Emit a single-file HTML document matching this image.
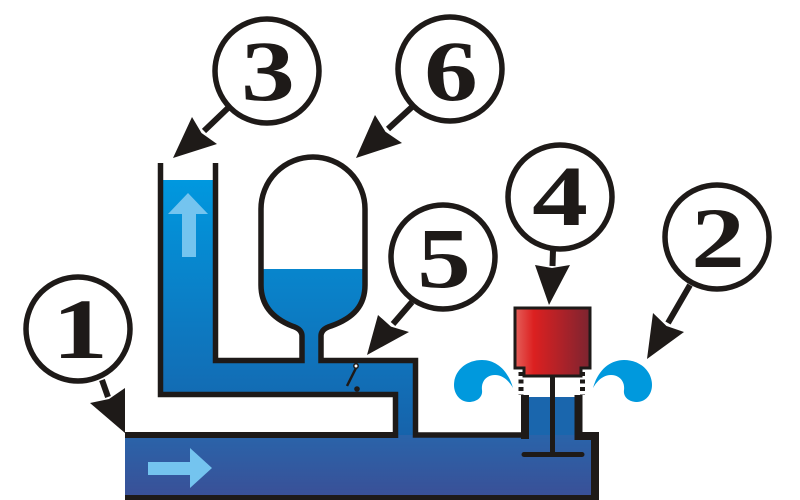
<!DOCTYPE html>
<html><head><meta charset="utf-8"><style>
html,body{margin:0;padding:0;background:#fff;}
svg{display:block;}
text{font-family:"Liberation Serif",serif;font-weight:bold;font-size:86px;fill:#1e1a18;}
</style></head><body>
<svg width="800" height="500" viewBox="0 0 800 500" xmlns="http://www.w3.org/2000/svg">
<defs>
<linearGradient id="dg" gradientUnits="userSpaceOnUse" x1="0" y1="180" x2="0" y2="440"><stop offset="0" stop-color="#0098df"/><stop offset="1" stop-color="#1762aa"/></linearGradient>
<linearGradient id="sg" gradientUnits="userSpaceOnUse" x1="0" y1="437" x2="0" y2="497"><stop offset="0" stop-color="#2a63a9"/><stop offset="1" stop-color="#3a5097"/></linearGradient>
<linearGradient id="rg" x1="0" x2="1" y1="0" y2="0"><stop offset="0" stop-color="#e4605a"/><stop offset="0.25" stop-color="#dc2020"/><stop offset="0.6" stop-color="#b02228"/><stop offset="1" stop-color="#7c2430"/></linearGradient>
<clipPath id="cw"><rect x="0" y="269" width="800" height="200"/></clipPath>
</defs>

<!-- water fills -->
<rect x="160" y="180" width="56" height="216" fill="url(#dg)"/>
<rect x="160" y="360" width="256" height="36" fill="url(#dg)"/>
<rect x="395" y="360" width="21" height="78" fill="url(#dg)"/>
<rect x="300" y="315" width="23" height="48" fill="url(#dg)"/>
<path clip-path="url(#cw)" fill="url(#dg)" d="M302,362 L302,336 Q302,329 292,326 C272,318 261,305 261,285 L261,209 A52,52 0 0 1 365,209 L365,285 C365,305 354,318 331,326 Q321,329 321,336 L321,362 Z"/>
<rect x="525" y="397" width="54" height="42" fill="#1a66ad"/>
<rect x="125" y="435" width="470" height="62" fill="url(#sg)"/>

<!-- flow arrows -->
<polygon fill="#74c4ef" points="188,193 208,214 196,214 196,257 182,257 182,214 168,214"/>
<polygon fill="#74c4ef" points="148,462 190,462 190,448 212,468 190,488 190,475 148,475"/>

<!-- walls -->
<g fill="none" stroke="#1e1a18" stroke-linejoin="miter">
<path stroke-width="5.5" d="M160.5,163 V394.5 H395.5 V438"/>
<path stroke-width="5.5" d="M215.5,163 V360.5 H302 V336 Q302,329 292,326 C272,318 261,305 261,285 V209 A52,52 0 0 1 365,209 V285 C365,305 354,318 331,326 Q321,329 321,336 V360.5 H415.5 V435 H525"/>
<path stroke-width="6" d="M125,435 H398"/>
<path stroke-width="8" d="M525,395 V439"/>
<path stroke-width="8" d="M578.5,395 V436 H595 V500"/>
<path stroke-width="5" d="M125,497.5 H599"/>
<path stroke-width="5" stroke-dasharray="4,3.5" d="M521,372 V395"/>
<path stroke-width="5" stroke-dasharray="4,3.5" d="M582.5,372 V395"/>
</g>

<!-- check valve -->
<line x1="347" y1="386" x2="356" y2="368" stroke="#1e1a18" stroke-width="2.5"/>
<circle cx="356" cy="366" r="2.2" fill="#fff" stroke="#1e1a18" stroke-width="1.5"/>
<circle cx="357" cy="389" r="2.8" fill="#1e1a18"/>

<!-- impulse valve -->
<line x1="552.5" y1="376" x2="552.5" y2="455" stroke="#1e1a18" stroke-width="5"/>
<line x1="524" y1="454.5" x2="582" y2="454.5" stroke="#1e1a18" stroke-width="5" stroke-linecap="round"/>
<path d="M515,308 L590,308 L590,368 L581,368 L581,376 L524,376 L524,368 L515,368 Z" fill="url(#rg)" stroke="#1e1a18" stroke-width="3"/>

<!-- splashes -->
<path fill="#0099dd" d="M513,388 C508,370 496,360 482,360 C466,360 454,371 454,385 C454,395 461,402 469,402 C477,402 483,397 482,390 C481,382 486,375 495,375 C503,375 509,381 513,388 Z"/>
<path fill="#0099dd" transform="translate(1106,0) scale(-1,1)" d="M513,388 C508,370 496,360 482,360 C466,360 454,371 454,385 C454,395 461,402 469,402 C477,402 483,397 482,390 C481,382 486,375 495,375 C503,375 509,381 513,388 Z"/>

<!-- callout arrows -->
<g stroke="#1e1a18" stroke-width="6" fill="none">
<line x1="102" y1="380" x2="108" y2="397"/>
<line x1="228" y1="108" x2="204" y2="131"/>
<line x1="412" y1="107" x2="388" y2="129"/>
<line x1="412" y1="302" x2="393" y2="324"/>
<line x1="553" y1="250" x2="552.5" y2="266"/>
<line x1="690" y1="285" x2="668" y2="323"/>
</g>
<g fill="#1e1a18">
<polygon points="125,433 90,403 109,399 125,388"/>
<polygon points="173,158 192,117 201.5,133 217,144"/>
<polygon points="356,158 375,115 385.5,131.7 402,143"/>
<polygon points="367,355 378,315 391,326.6 409,332"/>
<polygon points="549,305 535,265 552,268 570,265"/>
<polygon points="647,359 653,313 666.5,326 684,332"/>
</g>

<!-- callout circles -->
<g fill="#fff" stroke="#1e1a18" stroke-width="5.5">
<circle cx="78" cy="329" r="52"/>
<circle cx="267" cy="71" r="52"/>
<circle cx="450" cy="69" r="52"/>
<circle cx="443" cy="257" r="52"/>
<circle cx="560" cy="197" r="52"/>
<circle cx="717" cy="237" r="52"/>
</g>
<g text-anchor="middle">
<text transform="translate(80,358) scale(1.3,1)">1</text>
<text transform="translate(268,100) scale(1.25,1)">3</text>
<text transform="translate(451,100) scale(1.25,1)">6</text>
<text transform="translate(444,287) scale(1.25,1)">5</text>
<text transform="translate(560,225) scale(1.3,1)">4</text>
<text transform="translate(718,267) scale(1.25,1)">2</text>
</g>
</svg>
</body></html>
